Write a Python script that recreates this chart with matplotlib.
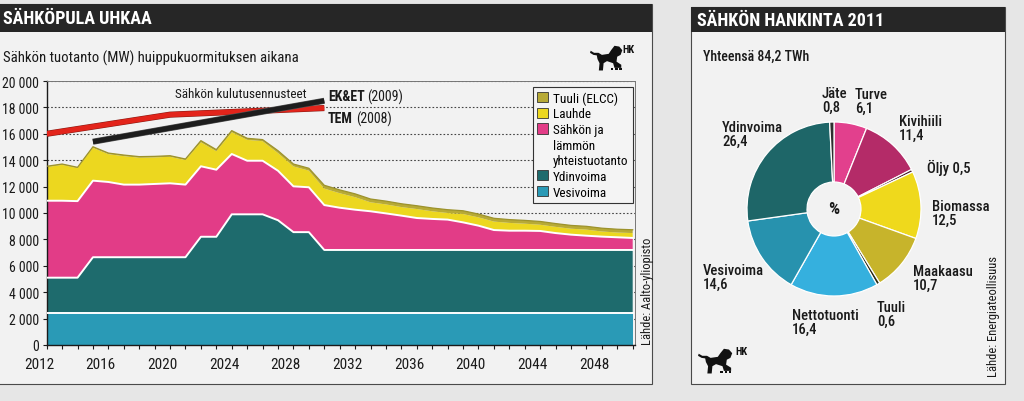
import matplotlib
matplotlib.use("Agg")
import matplotlib.pyplot as plt
import matplotlib.patheffects as pe
from matplotlib import font_manager
from matplotlib.patches import Patch, Rectangle, Polygon
import numpy as np

# condensed font if there is one
installed = {f.name for f in font_manager.fontManager.ttflist}
FONT = "DejaVu Sans"
for cand in ["Roboto Condensed", "Liberation Sans Narrow", "Open Sans Condensed"]:
    if cand in installed:
        FONT = cand
        break
plt.rcParams["font.family"] = [FONT, "DejaVu Sans"]
plt.rcParams["font.stretch"] = "condensed"

# --- data: peak-load production (MW) ---
years = list(range(2012, 2051))
vesivoima = [2400] * 39
ydinvoima = [2700] * 3 + [4250] * 7 + [5800] * 2 + [7500] * 3 + [7050] + [6150] * 2 + [4800] * 21
yhteistuotanto = [5830, 5830, 5800, 5800, 5700, 5500, 5500, 5550, 5600, 5500,
                  5340, 5080, 4570, 4060, 4060, 3750, 3470, 3400, 3400, 3200,
                  3050, 2930, 2770, 2600, 2420, 2350, 2300, 2090, 1840, 1510,
                  1460, 1460, 1440, 1280, 1160, 1080, 1010, 960, 910]
lauhde = [2550, 2720, 2500, 2490, 2110, 2160, 2040, 2010, 2010, 1860,
          1820, 1400, 1650, 1580, 1480, 1340, 1510, 1260, 1250, 1100,
          950, 680, 680, 650, 680, 580, 500, 630, 630, 640,
          590, 530, 470, 470, 450, 460, 390, 360, 370]
tuuli = [60] * 3 + [80] * 7 + [120] * 5 + [180] * 3 + [250] * 21

# consumption forecasts
tem_years = [2012, 2020, 2030]
tem_values = [16000, 17450, 17950]
ek_years = [2015, 2030]
ek_values = [15400, 18500]

# electricity supply 2011 (%)
pie_labels = ["Turve", "Kivihiili", "Öljy", "Biomassa", "Maakaasu", "Tuuli",
              "Nettotuonti", "Vesivoima", "Ydinvoima", "Jäte"]
pie_values = [6.1, 11.4, 0.5, 12.5, 10.7, 0.6, 16.4, 14.6, 26.4, 0.8]

# --- colours ---
PAPER = "#e6e6e6"
PANEL = "#f2f2f2"
BAND = "#262626"
VESI = "#2a9ab6"
YDIN = "#1e6b6d"
CHP = "#e23c87"
LAUHDE = "#ecd71f"
TUULI = "#b7aa36"
pie_colors = ["#e2408d", "#b42b68", "#4a1a2c", "#efd91c", "#c7b42b", "#2b2a12",
              "#35b0de", "#2792ae", "#1e6668", "#2e2e2e"]

W, H = 1024, 402
fig = plt.figure(figsize=(W / 100, H / 100), dpi=100, facecolor=PAPER)


def fx(px):
    return px / W


def fy(py):
    return 1 - py / H


def box(x0, y0, x1, y1, zorder=-10, **kw):
    fig.add_artist(Rectangle((fx(x0), fy(y1)), fx(x1) - fx(x0), (y1 - y0) / H,
                             transform=fig.transFigure, zorder=zorder, **kw))


def lion(x0, y0, w, h):
    shape = [(0.02, 0.78), (0.12, 0.70), (0.25, 0.70), (0.35, 0.62), (0.55, 0.66),
             (0.62, 0.80), (0.72, 0.97), (0.86, 0.94), (0.95, 0.80), (0.90, 0.62),
             (0.80, 0.55), (0.78, 0.36), (0.92, 0.24), (0.92, 0.12), (0.72, 0.12),
             (0.68, 0.30), (0.50, 0.38), (0.40, 0.30), (0.38, 0.02), (0.26, 0.02),
             (0.28, 0.30), (0.22, 0.46), (0.20, 0.60), (0.10, 0.62), (0.0, 0.70)]
    pts = [(fx(x0 + u * w), fy(y0 + (1 - v) * h)) for u, v in shape]
    fig.add_artist(Polygon(pts, closed=True, transform=fig.transFigure,
                           facecolor="#111111", edgecolor="none"))
    for k in range(3):
        fig.add_artist(Rectangle((fx(x0 + w * (0.62 + 0.12 * k)), fy(y0 + h * 0.98)),
                                 fx(w * 0.07), 2 / H, transform=fig.transFigure,
                                 facecolor="#111111"))


# panels
box(-2, 5, 652, 385, facecolor=PANEL, edgecolor="#4a4a4a", lw=0.8)
box(-2, 5, 652, 33, zorder=-9, facecolor=BAND, edgecolor="none")
box(691, 8, 1005, 385, facecolor=PANEL, edgecolor="#4a4a4a", lw=0.8)
box(691, 8, 1005, 33, zorder=-9, facecolor=BAND, edgecolor="none")

fig.text(fx(3), fy(19.5), "SÄHKÖPULA UHKAA", color="white", weight="bold",
         size=13, va="center", ha="left")
fig.text(fx(697), fy(21), "SÄHKÖN HANKINTA 2011", color="white", weight="bold",
         size=13, va="center", ha="left")
fig.text(fx(3), fy(58), "Sähkön tuotanto (MW) huippukuormituksen aikana",
         size=10.6, va="center", ha="left", color="#1a1a1a")

# --- stacked area chart ---
ax = fig.add_axes([fx(46.7), fy(346), (635 - 46.7) / W, 264 / H])
ax.set_facecolor(PANEL)
x = np.array(years) + 0.5
layers = [vesivoima, ydinvoima, yhteistuotanto, lauhde, tuuli]
ax.stackplot(x, *layers, colors=[VESI, YDIN, CHP, LAUHDE, TUULI], lw=0, zorder=2)
tops = np.cumsum(np.array(layers), axis=0)
for t in tops[:3]:
    ax.plot(x, t, color="white", lw=1.4, zorder=3)
ax.plot(x, tops[4], color="#9c922c", lw=0.9, zorder=3)

ax.plot(np.array(tem_years) + 0.5, tem_values, color="#e3241b", lw=3.6,
        solid_capstyle="butt", zorder=5,
        path_effects=[pe.Stroke(linewidth=4.4, foreground="#8a1a12"), pe.Normal()])
ax.plot(np.array(ek_years) + 0.5, ek_values, color="#1d1d1d", lw=3.6,
        solid_capstyle="butt", zorder=6,
        path_effects=[pe.Stroke(linewidth=4.4, foreground="#555555"), pe.Normal()])

ax.set_xlim(2012.5, 2050.65)
ax.set_ylim(0, 20000)
yt = list(range(0, 20001, 2000))
ax.set_yticks(yt)
ax.set_yticklabels([f"{v:,}".replace(",", " ") for v in yt])
ax.tick_params(axis="y", length=3, width=0.8, pad=2.5, labelsize=10,
               colors="#1a1a1a")
ax.set_xticks(np.array(years) + 0.5, minor=True)
ax.set_xticks([])
ax.tick_params(axis="x", which="minor", length=3, width=0.8, direction="out",
               color="#1a1a1a")
for yr in range(2012, 2049, 4):
    ax.text(yr, -0.045, str(yr), transform=ax.get_xaxis_transform(),
            ha="center", va="top", size=11, color="#1a1a1a", clip_on=False)

ax.yaxis.grid(True, linestyle=(0, (1.5, 1.8)), color="#444444", lw=0.8)
ax.set_axisbelow(True)
for side in ["left", "bottom"]:
    ax.spines[side].set_color("#1a1a1a")
    ax.spines[side].set_linewidth(1.0)
for side in ["top", "right"]:
    ax.spines[side].set_color("#777777")
    ax.spines[side].set_linewidth(0.7)

blank = Patch(facecolor="none", edgecolor="none")
handles = [Patch(facecolor=TUULI, edgecolor="#333333", lw=0.6),
           Patch(facecolor=LAUHDE, edgecolor="#333333", lw=0.6),
           Patch(facecolor=CHP, edgecolor="#333333", lw=0.6), blank, blank,
           Patch(facecolor=YDIN, edgecolor="#333333", lw=0.6),
           Patch(facecolor=VESI, edgecolor="#333333", lw=0.6)]
labels = ["Tuuli (ELCC)", "Lauhde", "Sähkön ja", "lämmön", "yhteistuotanto",
          "Ydinvoima", "Vesivoima"]
leg = ax.legend(handles, labels, loc="upper right", bbox_to_anchor=(0.997, 0.978),
                fontsize=9.5, frameon=True, fancybox=False, framealpha=1,
                facecolor="#f4f4f4", edgecolor="#333333", borderpad=0.35,
                handlelength=0.8, handleheight=0.8, handletextpad=0.4,
                labelspacing=0.2, borderaxespad=0)
leg.get_frame().set_linewidth(0.8)
leg.set_zorder(10)

fig.text(fx(175), fy(95), "Sähkön kulutusennusteet", size=9.5, va="center",
         ha="left", color="#1a1a1a")
t1 = fig.text(fx(328), fy(97), "EK&ET", size=10, weight="bold", va="center",
              ha="left", color="#1a1a1a")
t2 = fig.text(fx(328), fy(119), "TEM", size=10, weight="bold", va="center",
              ha="left", color="#1a1a1a")
for src, yr in [(t1, "(2009)"), (t2, "(2008)")]:
    ax.annotate(yr, xy=(1, 0.5), xycoords=src, xytext=(2, 0),
                textcoords="offset points", va="center", ha="left", size=10,
                color="#1a1a1a", annotation_clip=False)

fig.text(fx(647), fy(345), "Lähde: Aalto-yliopisto", rotation=90, ha="center",
         va="bottom", size=9, color="#1a1a1a")
lion(590, 46, 34, 26)
fig.text(fx(622), fy(50), "HK", size=7.5, weight="bold", ha="left",
         va="center", color="#111111")

# --- donut ---
ax2 = fig.add_axes([fx(747), fy(297), 174 / W, 174 / H])
ax2.pie(pie_values, colors=pie_colors, startangle=90, counterclock=False,
        wedgeprops=dict(width=0.69, edgecolor="white", linewidth=0.9))
ax2.set_xlim(-1, 1)
ax2.set_ylim(-1, 1)
ax2.set_aspect("equal")
ax2.text(0, 0, "%", ha="center", va="center", size=12.5, weight="bold",
         color="#1a1a1a")

label_pos = {"Jäte": (822, 101), "Turve": (855, 102), "Kivihiili": (899, 129),
             "Öljy": (927, 168), "Biomassa": (932, 214), "Maakaasu": (913, 279),
             "Tuuli": (877, 315), "Nettotuonti": (792, 323),
             "Vesivoima": (703, 278), "Ydinvoima": (722, 135)}
for name, val in zip(pie_labels, pie_values):
    num = f"{val:.1f}".replace(".", ",")
    txt = f"{name} {num}" if name == "Öljy" else f"{name}\n{num}"
    px, py = label_pos[name]
    fig.text(fx(px), fy(py), txt, ha="left", va="center", size=10.5,
             weight="medium", linespacing=1.05, color="#1a1a1a")

fig.text(fx(703), fy(57), "Yhteensä 84,2 TWh", ha="left", va="center",
         size=10, weight="medium", color="#1a1a1a")
fig.text(fx(993), fy(377), "Lähde: Energiateollisuus", rotation=90, ha="center",
         va="bottom", size=9, color="#1a1a1a")
lion(698, 349, 36, 26)
fig.text(fx(735), fy(352), "HK", size=7.5, weight="bold", ha="left",
         va="center", color="#111111")

fig.savefig("out.png", dpi=100, facecolor=PAPER)
